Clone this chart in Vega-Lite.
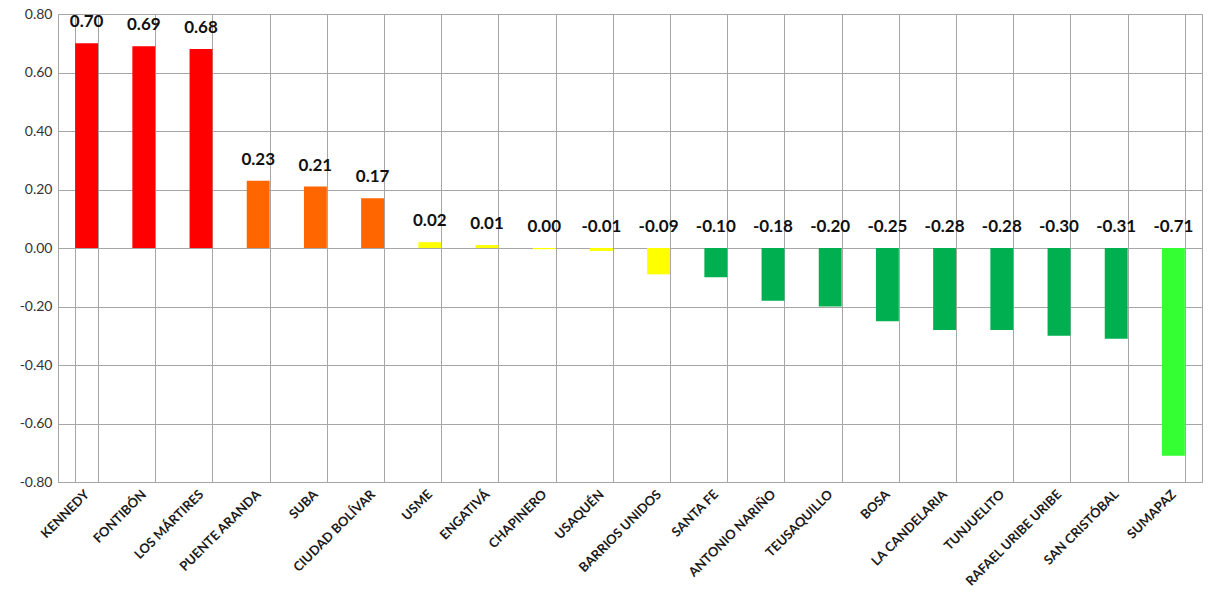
{
  "$schema": "https://vega.github.io/schema/vega-lite/v6.json",
  "width": 1144,
  "height": 468,
  "autosize": {"type": "none"},
  "padding": {"left": 58, "top": 14, "right": 13, "bottom": 128},
  "background": "white",
  "config": {
    "view": {"stroke": "#a6a6a6", "strokeWidth": 1},
    "font": "Lato"
  },
  "data": {
    "values": [
      {"localidad": "KENNEDY", "valor": 0.70, "grupo": "alto"},
      {"localidad": "FONTIBÓN", "valor": 0.69, "grupo": "alto"},
      {"localidad": "LOS MÁRTIRES", "valor": 0.68, "grupo": "alto"},
      {"localidad": "PUENTE ARANDA", "valor": 0.23, "grupo": "medio-alto"},
      {"localidad": "SUBA", "valor": 0.21, "grupo": "medio-alto"},
      {"localidad": "CIUDAD BOLÍVAR", "valor": 0.17, "grupo": "medio-alto"},
      {"localidad": "USME", "valor": 0.02, "grupo": "medio"},
      {"localidad": "ENGATIVÁ", "valor": 0.01, "grupo": "medio"},
      {"localidad": "CHAPINERO", "valor": -0.004, "grupo": "medio"},
      {"localidad": "USAQUÉN", "valor": -0.01, "grupo": "medio"},
      {"localidad": "BARRIOS UNIDOS", "valor": -0.09, "grupo": "medio"},
      {"localidad": "SANTA FE", "valor": -0.10, "grupo": "bajo"},
      {"localidad": "ANTONIO NARIÑO", "valor": -0.18, "grupo": "bajo"},
      {"localidad": "TEUSAQUILLO", "valor": -0.20, "grupo": "bajo"},
      {"localidad": "BOSA", "valor": -0.25, "grupo": "bajo"},
      {"localidad": "LA CANDELARIA", "valor": -0.28, "grupo": "bajo"},
      {"localidad": "TUNJUELITO", "valor": -0.28, "grupo": "bajo"},
      {"localidad": "RAFAEL URIBE URIBE", "valor": -0.30, "grupo": "bajo"},
      {"localidad": "SAN CRISTÓBAL", "valor": -0.31, "grupo": "bajo"},
      {"localidad": "SUMAPAZ", "valor": -0.71, "grupo": "muy bajo"}
    ]
  },
  "transform": [
    {"calculate": "max(datum.valor, 0)", "as": "posEtiqueta"},
    {"calculate": "replace(format(datum.valor, '.2f'), '\u2212', '-')", "as": "etiqueta"}
  ],
  "encoding": {
    "x": {
      "field": "localidad",
      "type": "nominal",
      "sort": null,
      "scale": {"paddingInner": 0.6, "paddingOuter": 0.3},
      "axis": {
        "title": null,
        "labelAngle": -45,
        "labelAlign": "right",
        "labelBaseline": "middle",
        "labelFontSize": 13,
        "labelFontWeight": "bold",
        "labelColor": "#1a1a1a",
        "labelPadding": 10,
        "ticks": false,
        "domain": false,
        "grid": true,
        "tickBand": "extent",
        "gridColor": "#a6a6a6",
        "gridOpacity": 1
      }
    }
  },
  "layer": [
    {
      "mark": {"type": "bar"},
      "encoding": {
        "y": {
          "field": "valor",
          "type": "quantitative",
          "scale": {"domain": [-0.8, 0.8], "nice": false},
          "axis": {
            "title": null,
            "values": [-0.8, -0.6, -0.4, -0.2, 0, 0.2, 0.4, 0.6, 0.8],
            "labelExpr": "replace(format(datum.value, '.2f'), '\u2212', '-')",
            "labelFontSize": 14,
            "labelColor": "#333333",
            "labelPadding": 6,
            "ticks": false,
            "domainColor": "#a6a6a6",
            "gridColor": "#a6a6a6",
            "gridOpacity": 1
          }
        },
        "color": {
          "field": "grupo",
          "type": "nominal",
          "scale": {
            "domain": ["alto", "medio-alto", "medio", "bajo", "muy bajo"],
            "range": ["#ff0000", "#ff6600", "#ffff00", "#00b050", "#33ff33"]
          },
          "legend": null
        }
      }
    },
    {
      "mark": {"type": "text", "dy": -21, "fontSize": 17, "fontWeight": "bold", "color": "#111111", "baseline": "middle"},
      "encoding": {
        "y": {"field": "posEtiqueta", "type": "quantitative"},
        "text": {"field": "etiqueta"}
      }
    }
  ]
}
